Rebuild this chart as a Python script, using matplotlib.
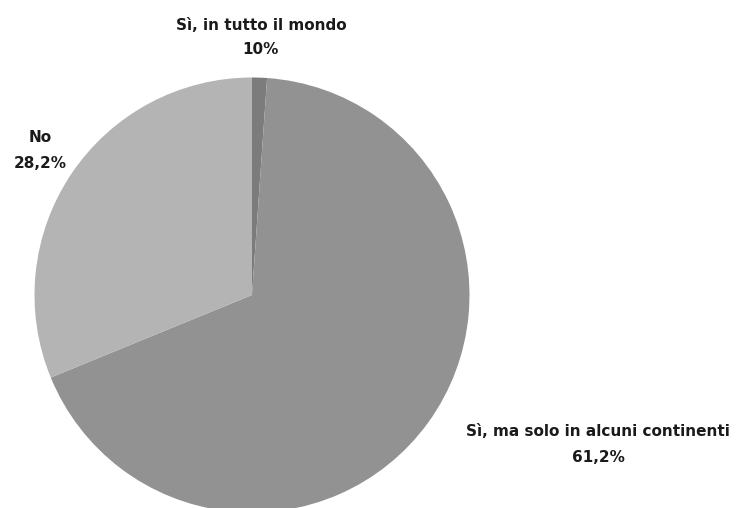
import matplotlib
matplotlib.use("Agg")
import matplotlib.pyplot as plt

# Survey answers and their shares
categories = ["Sì, in tutto il mondo", "Sì, ma solo in alcuni continenti", "No"]
shares = [1.0, 61.2, 28.2]
share_labels = ["10%", "61,2%", "28,2%"]
colors = ["#7c7c7c", "#929292", "#b4b4b4"]

W, H = 737, 508
fig = plt.figure(figsize=(W / 100, H / 100), dpi=100)
fig.patch.set_facecolor("white")

# pie centre (252, 295) px from top-left, radius 217.5 px
cx, cy, r = 252.0, 295.0, 217.5
ax = fig.add_axes([(cx - r) / W, (H - cy - r) / H, 2 * r / W, 2 * r / H])
ax.pie(shares, colors=colors, startangle=90, counterclock=False,
       radius=1.0, wedgeprops=dict(linewidth=0))
ax.set_xlim(-1, 1)
ax.set_ylim(-1, 1)
ax.set_aspect("equal")
ax.axis("off")

font = dict(family=["DejaVu Sans"], fontsize=11,
            fontweight="bold", color="#1a1a1a", ha="center", va="center")

# label anchors in pixels (x, y of first line from top)
label_pos = [(261, 25), (598, 432), (40, 138)]
for name, lab, (px, py) in zip(categories, share_labels, label_pos):
    fig.text(px / W, 1 - py / H, name, **font)
    fig.text(px / W, 1 - (py + 25) / H, lab, **font)

fig.savefig("out.png", dpi=100, facecolor="white")
